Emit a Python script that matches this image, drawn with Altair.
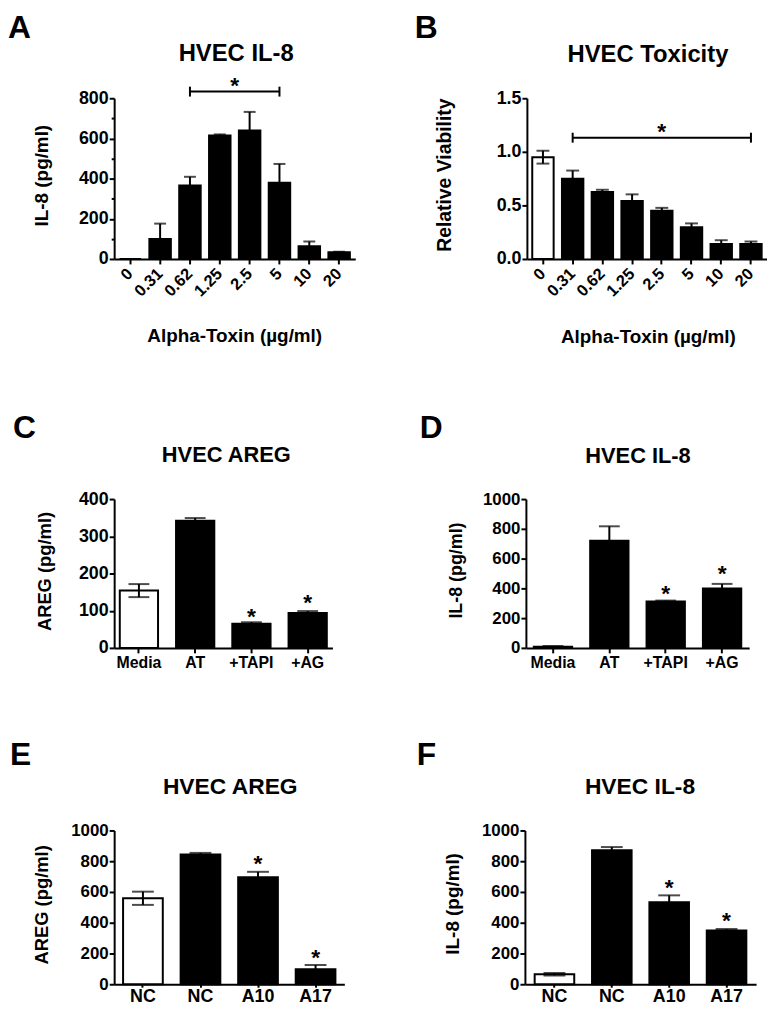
import altair as alt
import pandas as pd

FONT = "Liberation Sans"

# ---------------- data ----------------
# Panel A: HVEC IL-8 vs alpha-toxin dose
A_LABELS = ["0", "0.31", "0.62", "1.25", "2.5", "5", "10", "20"]
A_MEAN = [0, 100, 366, 614, 640, 379, 63, 33]
A_ERR = [0, 76, 43, 6, 92, 94, 24, 3]
A_OPEN = [0, 0, 0, 0, 0, 0, 0, 0]
A_TICKS = [0, 100, 200, 300, 400, 500, 600, 700, 800]
A_SIG = [2, 5]          # significance bracket from category index to index
A_SIG_Y = 833
A_SIG_STAR_Y = 892

# Panel B: HVEC toxicity
B_LABELS = ["0", "0.31", "0.62", "1.25", "2.5", "5", "10", "20"]
B_MEAN = [0.95, 0.748, 0.625, 0.54, 0.45, 0.295, 0.14, 0.14]
B_ERR = [0.06, 0.077, 0.021, 0.063, 0.027, 0.037, 0.035, 0.023]
B_OPEN = [1, 0, 0, 0, 0, 0, 0, 0]
B_TICKS = [0, 0.5, 1.0, 1.5]
B_SIG = [1, 7]
B_SIG_Y = 1.132
B_SIG_STAR_Y = 1.242

# Panel C: HVEC AREG with inhibitors
C_LABELS = ["Media", "AT", "+TAPI", "+AG"]
C_MEAN = [154, 342, 65, 94]
C_ERR = [17.5, 7, 4, 5]
C_OPEN = [1, 0, 0, 0]
C_TICKS = [0, 100, 200, 300, 400]
C_STAR_IDX = [2, 3]
C_STAR_Y = [100, 136]

# Panel D: HVEC IL-8 with inhibitors
D_LABELS = ["Media", "AT", "+TAPI", "+AG"]
D_MEAN = [8, 720, 311, 400]
D_ERR = [5, 97, 7, 30]
D_OPEN = [1, 0, 0, 0]
D_TICKS = [0, 200, 400, 600, 800, 1000]
D_STAR_IDX = [2, 3]
D_STAR_Y = [404, 536]

# Panel E: HVEC AREG with siRNA
E_LABELS = ["NC", "NC", "A10", "A17"]
E_MEAN = [559, 843, 695, 97]
E_ERR = [43, 11, 36, 28]
E_OPEN = [1, 0, 0, 0]
E_TICKS = [0, 200, 400, 600, 800, 1000]
E_STAR_IDX = [2, 3]
E_STAR_Y = [821, 209]

# Panel F: HVEC IL-8 with siRNA
F_LABELS = ["NC", "NC", "A10", "A17"]
F_MEAN = [65, 871, 533, 350]
F_ERR = [8, 21, 45, 9]
F_OPEN = [1, 0, 0, 0]
F_TICKS = [0, 200, 400, 600, 800, 1000]
F_STAR_IDX = [2, 3]
F_STAR_Y = [667, 447]

XTITLE = "Alpha-Toxin (µg/ml)"


def build_panel(p):
    keys = [f"{i}|{lab}" for i, lab in enumerate(p["labels"])]
    n = len(keys)
    df = pd.DataFrame({"key": keys, "mean": p["mean"], "err": p["err"], "open": p["open"]})
    df["hi"] = df["mean"] + df["err"]
    df["lo"] = df["mean"] - df["err"] * df["open"]

    cap_rows = []
    for k, m, e, o in zip(keys, p["mean"], p["err"], p["open"]):
        if e > 0:
            cap_rows.append({"key": k, "v": m + e})
            if o:
                cap_rows.append({"key": k, "v": m - e})
    caps = pd.DataFrame(cap_rows)

    xaxis_kw = dict(labelExpr="split(datum.label, '|')[1]", labelFontSize=p["xlab"],
                    tickSize=p["xtick"], labelPadding=p["xpad"], labelOverlap=False)
    if p["rot"]:
        xaxis_kw.update(labelAngle=315, labelAlign="right", labelBaseline="middle")
    else:
        xaxis_kw.update(labelAngle=0)
    X = alt.X("key:N", sort=keys, title=None,
              scale=alt.Scale(paddingInner=p["pi"], paddingOuter=p["po"]),
              axis=alt.Axis(**xaxis_kw))

    major = p["major"]
    yaxis = alt.Axis(values=p["ticks"], format=p["fmt"], labelFontSize=p["ylab"], labelPadding=1,
                     labelExpr=f"datum.value % {major} ? '' : datum.label",
                     tickSize={"condition": {"test": f"datum.value % {major}", "value": 3}, "value": 5})
    yscale = alt.Scale(domain=[0, p["ticks"][-1]], nice=False, zero=True)

    def Y(field):
        return alt.Y(f"{field}:Q", title=None, scale=yscale, axis=yaxis)

    bars = alt.Chart(df).mark_bar(stroke="black", strokeWidth=2).encode(
        x=X, y=Y("mean"),
        fill=alt.condition("datum.open == 1", alt.value("white"), alt.value("black")))
    errs = alt.Chart(df[df.err > 0]).mark_rule(color="black", strokeWidth=2).encode(
        x=X, y=Y("lo"), y2="hi:Q")
    capm = alt.Chart(caps).mark_tick(color="black", thickness=2, size=p["cap"]).encode(
        x=X, y=Y("v"))
    layers = [bars, errs, capm]

    step = p["w"] / (n - p["pi"] + 2 * p["po"])
    if "star_idx" in p:
        sdf = pd.DataFrame({"key": [keys[i] for i in p["star_idx"]], "sy": p["star_y"]})
        layers.append(alt.Chart(sdf).mark_text(text="*", font=FONT, fontWeight="bold", fontSize=23,
                                               baseline="middle", dy=6, color="black").encode(
            x=X, y=Y("sy")))
    if "sig" in p:
        s0, s1 = p["sig"]
        ldf = pd.DataFrame({"key": [keys[s0], keys[s1]], "sy": [p["sig_y"]] * 2})
        layers.append(alt.Chart(ldf).mark_line(color="black", strokeWidth=2).encode(
            x=X, y=Y("sy")))
        layers.append(alt.Chart(ldf).mark_rule(color="black", strokeWidth=2,
                                               yOffset=-5, y2Offset=5).encode(
            x=X, y=Y("sy"), y2="sy:Q"))
        mid = (s0 + s1) / 2
        base_i = int(mid)
        sdf2 = pd.DataFrame({"key": [keys[base_i]], "sy": [p["sig_star_y"]]})
        layers.append(alt.Chart(sdf2).mark_text(text="*", font=FONT, fontWeight="bold", fontSize=23,
                                                baseline="middle", dy=6,
                                                dx=(mid - base_i) * step, color="black").encode(
            x=X, y=Y("sy")))

    one = pd.DataFrame({"t": [0]})

    def txt(s, x, y, size, align="center", angle=0):
        return alt.Chart(one).mark_text(text=s, font=FONT, fontWeight="bold", fontSize=size,
                                        align=align, baseline="alphabetic", angle=angle,
                                        color="black").encode(x=alt.value(x), y=alt.value(y))

    lx, ly = p["letter"]
    layers.append(txt(p["name"], lx, ly, 32, align="left"))
    tx, ty, ts = p["title_pos"]
    layers.append(txt(p["title"], tx, ty, ts))
    yx, yy, ys = p["ytitle_pos"]
    layers.append(txt(p["ytitle"], yx, yy, ys, angle=270))
    if "xtitle_pos" in p:
        xx, xy, xs = p["xtitle_pos"]
        layers.append(txt(XTITLE, xx, xy, xs))

    return alt.layer(*layers).properties(width=p["w"], height=p["h"])


pA = dict(name="A", labels=A_LABELS, mean=A_MEAN, err=A_ERR, open=A_OPEN, ticks=A_TICKS, major=200,
          fmt="d", sig=A_SIG, sig_y=A_SIG_Y, sig_star_y=A_SIG_STAR_Y,
          title="HVEC IL-8", ytitle="IL-8 (pg/ml)",
          w=243, h=162, pi=0.28, po=0.18, cap=12, ylab=18, xlab=16.5, xtick=5, xpad=7, rot=True,
          letter=(-107, -61), title_pos=(123, -38, 24), ytitle_pos=(-67, 78, 19),
          xtitle_pos=(121.5, 246, 19))
pB = dict(name="B", labels=B_LABELS, mean=B_MEAN, err=B_ERR, open=B_OPEN, ticks=B_TICKS, major=0.5,
          fmt=".1f", sig=B_SIG, sig_y=B_SIG_Y, sig_star_y=B_SIG_STAR_Y,
          title="HVEC Toxicity", ytitle="Relative Viability",
          w=242, h=162, pi=0.28, po=0.18, cap=13, ylab=18, xlab=16.5, xtick=5, xpad=7, rot=True,
          letter=(-113, -61), title_pos=(122, -37, 24), ytitle_pos=(-77, 77.5, 19.5),
          xtitle_pos=(122.5, 247, 19))
pC = dict(name="C", labels=C_LABELS, mean=C_MEAN, err=C_ERR, open=C_OPEN, ticks=C_TICKS, major=100,
          fmt="d", star_idx=C_STAR_IDX, star_y=C_STAR_Y,
          title="HVEC AREG", ytitle="AREG (pg/ml)",
          w=220, h=150, pi=0.32, po=0.1, cap=21, ylab=18, xlab=16, xtick=5, xpad=2, rot=False,
          letter=(-102, -62), title_pos=(113, -37, 22), ytitle_pos=(-64, 73, 18.5))
pD = dict(name="D", labels=D_LABELS, mean=D_MEAN, err=D_ERR, open=D_OPEN, ticks=D_TICKS, major=200,
          fmt="d", star_idx=D_STAR_IDX, star_y=D_STAR_Y,
          title="HVEC IL-8", ytitle="IL-8 (pg/ml)",
          w=225, h=150, pi=0.32, po=0.14, cap=21, ylab=17, xlab=16, xtick=5, xpad=2, rot=False,
          letter=(-107, -62), title_pos=(113, -36, 22), ytitle_pos=(-64, 72, 18))
pE = dict(name="E", labels=E_LABELS, mean=E_MEAN, err=E_ERR, open=E_OPEN, ticks=E_TICKS, major=200,
          fmt="d", star_idx=E_STAR_IDX, star_y=E_STAR_Y,
          title="HVEC AREG", ytitle="AREG (pg/ml)",
          w=232, h=155, pi=0.31, po=0.155, cap=22, ylab=17, xlab=18, xtick=3, xpad=0, rot=False,
          letter=(-105, -66), title_pos=(117, -37, 23), ytitle_pos=(-67, 75, 18.5))
pF = dict(name="F", labels=F_LABELS, mean=F_MEAN, err=F_ERR, open=F_OPEN, ticks=F_TICKS, major=200,
          fmt="d", star_idx=F_STAR_IDX, star_y=F_STAR_Y,
          title="HVEC IL-8", ytitle="IL-8 (pg/ml)",
          w=233, h=155, pi=0.31, po=0.17, cap=22, ylab=17, xlab=18, xtick=3, xpad=0, rot=False,
          letter=(-109, -66), title_pos=(116, -37, 23), ytitle_pos=(-66, 74, 19))

row1 = alt.hconcat(build_panel(pA), build_panel(pB), spacing=60)
row2 = alt.hconcat(build_panel(pC), build_panel(pD), spacing=88)
row3 = alt.hconcat(build_panel(pE), build_panel(pF), spacing=73)

chart = alt.vconcat(row1, alt.vconcat(row2, row3, spacing=69), spacing=65).properties(
    padding=0
).configure(font=FONT).configure_view(strokeWidth=0).configure_axis(
    domainColor="black", domainWidth=2, tickColor="black", tickWidth=2,
    labelColor="black", labelFont=FONT, labelFontWeight="bold", grid=False
)

chart.save("out.html", embed_options={"renderer": "svg", "actions": False})
